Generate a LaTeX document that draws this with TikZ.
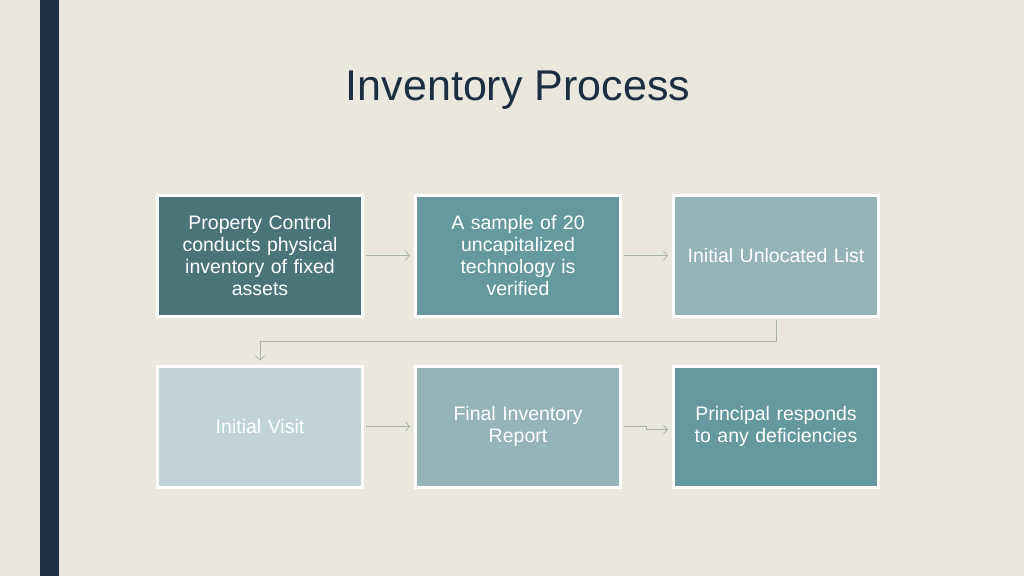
\documentclass[tikz,border=0pt]{standalone}
\usepackage{fontspec}
\setmainfont{Liberation Sans}
\usepackage{tikz}
\usetikzlibrary{matrix,arrows.meta,positioning}

\definecolor{bgcream}{HTML}{EAE7DE}
\definecolor{navybar}{HTML}{1C3144}
\definecolor{titlenavy}{HTML}{1C2E40}
\definecolor{tealdark}{HTML}{4A7479}
\definecolor{tealmid}{HTML}{66989F}
\definecolor{teallight}{HTML}{94B4B7}
\definecolor{tealpale}{HTML}{C0D3D6}
\definecolor{flowgray}{HTML}{A9B4AE}

\tikzset{
  stepbox/.style={draw=white, line width=3pt, minimum width=205pt, minimum height=121pt,
    text width=195pt, align=center, anchor=center, text=white, font=\fontsize{19.5}{22}\selectfont},
  flow/.style={draw=flowgray, line width=0.8pt, -{Straight Barb[length=4pt,width=9pt]},
    shorten <=2pt, shorten >=4pt},
  titletext/.style={text=titlenavy, font=\fontsize{43}{50}\selectfont}
}

\begin{document}
\begin{tikzpicture}[x=1pt, y=-1pt]
\useasboundingbox (0,0) rectangle (1024,576);
\fill[bgcream] (0,0) rectangle (1024,576);
\fill[navybar] (40,0) rectangle (59,576);

\node[titletext] (title) at (518,90) {Inventory Process};

\matrix (m) at (518,341) [matrix of nodes, nodes={stepbox}, column sep=50pt, row sep=47pt]
{
	|[fill=tealdark]| {Property Control\\conducts physical\\inventory of fixed\\assets} &
	|[fill=tealmid]| {A sample of 20\\uncapitalized\\technology is\\verified} &
	|[fill=teallight]| {Initial Unlocated List} \\
	|[fill=tealpale]| {Initial Visit} &
	|[fill=teallight]| {Final Inventory\\Report} &
	|[fill=tealmid]| {Principal responds\\to any deficiencies} \\
};
\path[flow]
(m-1-1) edge (m-1-2)
(m-1-2) edge (m-1-3)
(m-2-1) edge (m-2-2)
;
\draw[flow] (m-1-3.south) -- ++(0,24) -| (m-2-1.north);
\draw[flow] (m-2-2.east) -- ++(24,0) |- ([yshift=-3pt]m-2-3.west);
\end{tikzpicture}
\end{document}
